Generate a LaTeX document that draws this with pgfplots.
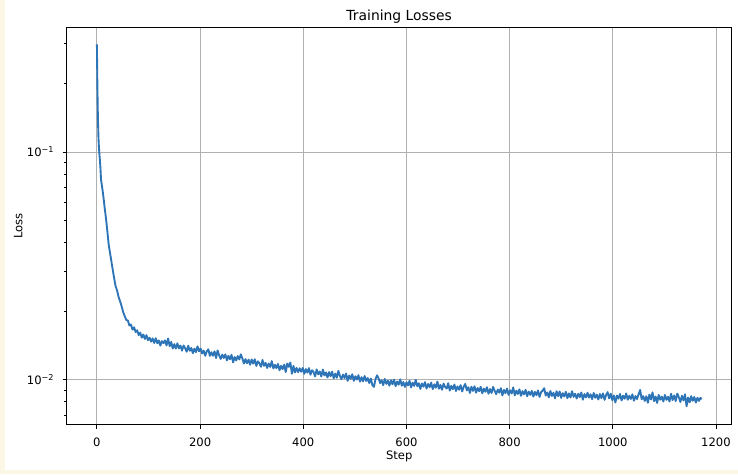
\documentclass[border=0pt]{standalone}
\usepackage{fontspec}
\setmainfont{DejaVu Sans}
\usepackage{pgfplots}
\pgfplotsset{compat=1.18}
\definecolor{cream}{RGB}{252,246,228}
\definecolor{mplblue}{RGB}{45,117,182}
\definecolor{gridgray}{RGB}{176,176,176}
\begin{document}
\begin{tikzpicture}
\path[use as bounding box, fill=white] (-48.0bp,-35.5bp) rectangle (483.3bp,305.8bp);
\fill[cream] (-48.0bp,-35.5bp) rectangle (-44.4bp,305.8bp);
\fill[cream] (-48.0bp,-35.5bp) rectangle (483.3bp,-32.6bp);
\begin{axis}[
  at={(0,0)}, anchor=south west,
  scale only axis,
  width=478.8bp, height=285.8bp,
  ymode=log,
  xmin=-58.6, xmax=1230.6,
  ymin=0.00634, ymax=0.3516,
  xtick={0,200,400,600,800,1000,1200},
  xticklabels={0,200,400,600,800,1000,1200},
  ytick={0.01,0.1},
  yticklabels={10\textsuperscript{−2},10\textsuperscript{−1}},
  minor ytick={0.007,0.008,0.009,0.02,0.03,0.04,0.05,0.06,0.07,0.08,0.09,0.2,0.3},
  tick pos=left,
  tick align=outside,
  major tick length=2.9bp,
  minor tick length=1.7bp,
  major tick style={black, line width=0.67bp},
  minor tick style={black, line width=0.5bp},
  axis line style={black, line width=0.67bp},
  grid=major,
  major grid style={gridgray, line width=0.67bp},
  tick label style={font=\fontsize{8.33bp}{10bp}\selectfont},
  xticklabel style={anchor=base, inner sep=0pt, yshift=-12.6bp},
  yticklabel style={anchor=east, inner sep=0pt, xshift=-5.8bp},
  every axis title/.style={at={(axis description cs:0.5,1.0176)}, anchor=base, font=\fontsize{10bp}{12bp}\selectfont},
  every axis x label/.style={at={(axis description cs:0.5,-0.0871)}, anchor=base, font=\fontsize{8.33bp}{10bp}\selectfont},
  every axis y label/.style={at={(axis description cs:-0.0665,0.5)}, anchor=base, rotate=90, font=\fontsize{8.33bp}{10bp}\selectfont},
  title={Training Losses},
  xlabel={Step},
  ylabel={Loss},
]
\addplot[mplblue, line width=1.35bp, line join=round, mark=none] coordinates {
(0,0.297)(1,0.190)(2,0.140)(3,0.116)(4,0.104)(5,0.097)(6,0.091)(7,0.084)(8,0.0755)(9,0.0730)
(10,0.0705)(11,0.0680)(12,0.0652)(13,0.0625)(14,0.0598)(15,0.0570)(16,0.0548)(17,0.0525)(18,0.0502)(19,0.0478)
(20,0.0455)(21,0.0432)(22,0.0410)(23,0.0390)(24,0.0378)(25,0.0366)(26,0.0354)(27,0.0343)(28,0.0332)(29,0.0321)
(30,0.0311)(33,0.0283)(36,0.0259)(39,0.0247)(42,0.0231)(45,0.0221)(48,0.0210)(51,0.0198)(54,0.0190)(57,0.0183)
(60,0.0182)(63,0.0173)(66,0.0175)(69,0.0166)(72,0.0170)(75,0.0162)(78,0.0165)(81,0.0157)(84,0.0161)(87,0.0153)
(90,0.0158)(93,0.0151)(96,0.0157)(99,0.0149)(102,0.0153)(105,0.0147)(108,0.0152)(111,0.0145)
(114,0.01522)(117,0.01446)(120,0.01488)(123,0.01412)(126,0.01477)(129,0.01448)(132,0.01489)(135,0.01415)(138,0.01518)(141,0.01404)
(144,0.01466)(147,0.01371)(150,0.01433)(153,0.01371)(156,0.01445)(159,0.01373)(162,0.01412)(165,0.01342)(168,0.01414)(171,0.01376)
(174,0.01327)(177,0.01410)(180,0.01340)(183,0.01379)(186,0.01309)(189,0.01369)(192,0.01321)(195,0.01402)(198,0.01333)(201,0.01372)
(204,0.01304)(207,0.01342)(210,0.01274)(213,0.01333)(216,0.01360)(219,0.01273)(222,0.01321)(225,0.01274)(228,0.01332)(231,0.01246)
(234,0.01345)(237,0.01279)(240,0.01234)(243,0.01290)(246,0.01246)(249,0.01292)(252,0.01216)(255,0.01273)(258,0.01229)(261,0.01286)
(264,0.01192)(267,0.01258)(270,0.01215)(273,0.01270)(276,0.01228)(279,0.01293)(282,0.01240)(285,0.01178)(288,0.01232)(291,0.01181)
(294,0.01225)(297,0.01164)(300,0.01228)(303,0.01177)(306,0.01230)(309,0.01150)(312,0.01204)(315,0.01181)(318,0.01140)(321,0.01221)
(324,0.01151)(327,0.01186)(330,0.01126)(333,0.01179)(336,0.01138)(339,0.01207)(342,0.01121)(345,0.01163)(348,0.01124)(351,0.01174)
(354,0.01100)(357,0.01151)(360,0.01113)(363,0.01165)(366,0.01081)(369,0.01178)(372,0.01139)(375,0.01191)(378,0.01063)(381,0.01150)
(384,0.01076)(387,0.01127)(390,0.01080)(393,0.01123)(396,0.01084)(399,0.01126)(402,0.01062)(405,0.01113)(408,0.01075)(411,0.01124)
(414,0.01052)(417,0.01101)(420,0.01081)(423,0.01035)(426,0.01110)(429,0.01056)(432,0.01087)(435,0.01034)(438,0.01108)(441,0.01045)
(444,0.01077)(447,0.01023)(450,0.01080)(453,0.01036)(456,0.01085)(459,0.01015)(462,0.01064)(465,0.01020)(468,0.01093)(471,0.01041)
(474,0.01006)(477,0.01053)(480,0.01017)(483,0.01065)(486,0.00989)(489,0.01044)(492,0.01010)(495,0.01057)(498,0.00989)(501,0.01036)
(504,0.01002)(507,0.01047)(510,0.00981)(513,0.01026)(516,0.00984)(519,0.01038)(522,0.00987)(525,0.01017)(528,0.00967)(531,0.01012)
(534,0.00946)(537,0.00930)(540,0.01005)(543,0.01045)(546,0.01015)(549,0.00966)(552,0.00995)(555,0.00947)(558,0.01008)(561,0.00959)
(564,0.00990)(567,0.00942)(570,0.00995)(573,0.00955)(576,0.01001)(579,0.00937)(582,0.00982)(585,0.00951)(588,0.01004)(591,0.00941)
(594,0.00977)(597,0.00930)(600,0.00975)(603,0.00944)(606,0.00989)(609,0.00925)(612,0.00970)(615,0.00939)(618,0.00999)(621,0.00937)
(624,0.00965)(627,0.00911)(630,0.00963)(633,0.00932)(636,0.00976)(639,0.00914)(642,0.00958)(645,0.00927)(648,0.00971)(651,0.00910)
(654,0.00954)(657,0.00922)(660,0.00981)(663,0.00913)(666,0.00949)(669,0.00903)(672,0.00961)(675,0.00930)(678,0.00914)(681,0.00965)
(684,0.00896)(687,0.00940)(690,0.00909)(693,0.00953)(696,0.00892)(699,0.00935)(702,0.00904)(705,0.00947)(708,0.00888)(711,0.00931)
(714,0.00958)(717,0.00898)(720,0.00927)(723,0.00875)(726,0.00932)(729,0.00893)(732,0.00936)(735,0.00877)(738,0.00919)(741,0.00890)
(744,0.00931)(747,0.00872)(750,0.00914)(753,0.00885)(756,0.00927)(759,0.00868)(762,0.00910)(765,0.00874)(768,0.00930)(771,0.00894)
(774,0.00864)(777,0.00906)(780,0.00877)(783,0.00918)(786,0.00853)(789,0.00902)(792,0.00873)(795,0.00914)(798,0.00858)(801,0.00899)
(804,0.00870)(807,0.00925)(810,0.00854)(813,0.00895)(816,0.00866)(819,0.00907)(822,0.00850)(825,0.00891)(828,0.00862)(831,0.00903)
(834,0.00846)(837,0.00887)(840,0.00858)(843,0.00893)(846,0.00843)(849,0.00884)(852,0.00855)(855,0.00897)(858,0.00840)(861,0.00882)
(864,0.00895)(867,0.00918)(870,0.00852)(873,0.00879)(876,0.00837)(879,0.00892)(882,0.00849)(885,0.00877)(888,0.00828)(891,0.00890)
(894,0.00847)(897,0.00888)(900,0.00832)(903,0.00873)(906,0.00845)(909,0.00885)(912,0.00830)(915,0.00871)(918,0.00835)(921,0.00890)
(924,0.00841)(927,0.00868)(930,0.00827)(933,0.00867)(936,0.00839)(939,0.00879)(942,0.00817)(945,0.00865)(948,0.00836)(951,0.00877)
(954,0.00835)(957,0.00863)(960,0.00821)(963,0.00874)(966,0.00833)(969,0.00860)(972,0.00819)(975,0.00865)(978,0.00830)(981,0.00871)
(984,0.00816)(987,0.00856)(990,0.00882)(993,0.00828)(996,0.00868)(999,0.00813)(1002,0.00853)(1005,0.00795)(1008,0.00852)(1011,0.00826)
(1014,0.00866)(1017,0.00811)(1020,0.00851)(1023,0.00825)(1026,0.00870)(1029,0.00817)(1032,0.00850)(1035,0.00823)(1038,0.00863)(1041,0.00809)
(1044,0.00848)(1047,0.00822)(1050,0.00862)(1053,0.00902)(1056,0.00821)(1059,0.00847)(1062,0.00807)(1065,0.00846)(1068,0.00793)(1071,0.00860)
(1074,0.00819)(1077,0.00880)(1080,0.00805)(1083,0.00844)(1086,0.00791)(1089,0.00858)(1092,0.00817)(1095,0.00843)(1098,0.00803)(1101,0.00857)
(1104,0.00816)(1107,0.00842)(1110,0.00802)(1113,0.00868)(1116,0.00814)(1119,0.00853)(1122,0.00806)(1125,0.00869)(1128,0.00838)(1131,0.00799)
(1134,0.00850)(1137,0.00811)(1140,0.00863)(1143,0.00765)(1146,0.00835)(1149,0.00796)(1152,0.00847)(1155,0.00808)(1158,0.00840)(1161,0.00794)
(1164,0.00833)(1167,0.00807)(1170,0.00833)(1172,0.00820)
};
\end{axis}
\end{tikzpicture}
\end{document}
